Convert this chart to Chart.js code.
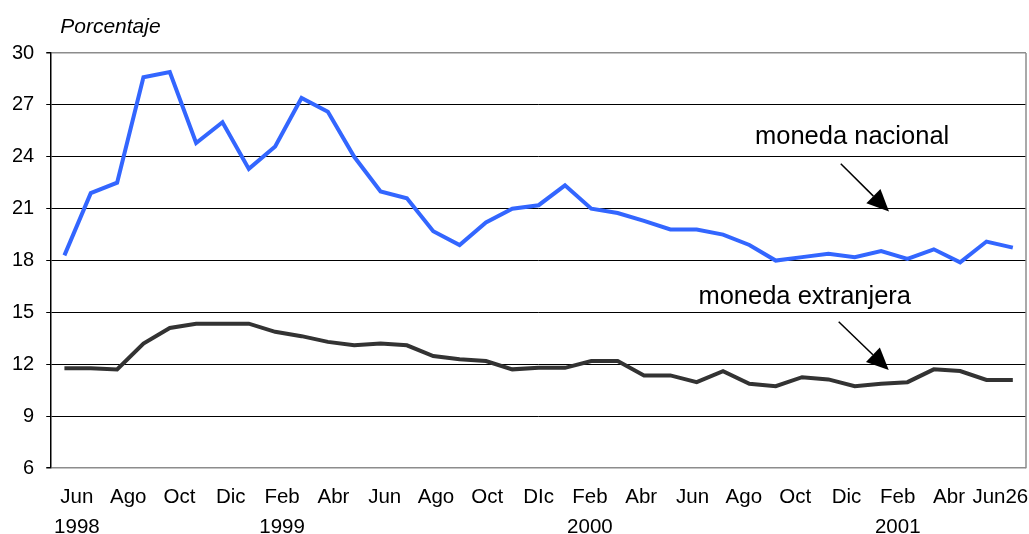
<!DOCTYPE html>
<html>
<head>
<meta charset="utf-8">
<script src="https://cdn.jsdelivr.net/npm/chart.js@4"></script>
<style>
  body { margin: 0; background: #fff; }
</style>
</head>
<body>
<canvas id="tasas" width="1029" height="534"></canvas>
<script>
// monthly points, Jun 1998 .. Jun 26 2001
const months = [
  "Jun 98","Jul 98","Ago 98","Sep 98","Oct 98","Nov 98","Dic 98",
  "Ene 99","Feb 99","Mar 99","Abr 99","May 99","Jun 99","Jul 99","Ago 99","Sep 99","Oct 99","Nov 99","Dic 99",
  "Ene 00","Feb 00","Mar 00","Abr 00","May 00","Jun 00","Jul 00","Ago 00","Sep 00","Oct 00","Nov 00","Dic 00",
  "Ene 01","Feb 01","Mar 01","Abr 01","May 01","Jun26 01"
];

// axis labels (every two months)
const tickLabels = [
  ["Jun","1998"],"Ago","Oct","Dic",["Feb","1999"],"Abr","Jun","Ago","Oct","DIc",
  ["Feb","2000"],"Abr","Jun","Ago","Oct","Dic",["Feb","2001"],"Abr","Jun26"
];

const monedaNacional = [
  18.3, 21.9, 22.5, 28.6, 28.9, 24.8, 26.0, 23.3, 24.6, 27.4, 26.6, 24.0,
  22.0, 21.6, 19.7, 18.9, 20.2, 21.0, 21.2, 22.35, 21.0, 20.75, 20.3, 19.8,
  19.8, 19.5, 18.9, 18.0, 18.2, 18.4, 18.2, 18.55, 18.1, 18.65, 17.9, 19.1, 18.75
];

const monedaExtranjera = [
  11.78, 11.78, 11.7, 13.2, 14.1, 14.35, 14.35, 14.35, 13.88, 13.63, 13.3, 13.1,
  13.2, 13.1, 12.48, 12.29, 12.19, 11.71, 11.8, 11.8, 12.19, 12.19, 11.36, 11.36,
  10.97, 11.6, 10.88, 10.74, 11.26, 11.13, 10.74, 10.88, 10.97, 11.71, 11.61, 11.1, 11.1
];

// callouts: [text, text x (index), text y (value), arrow from x, from y, to x, to y]
const callouts = [
  ["moneda nacional", 29.9, 24.74, 29.47, 23.6, 31.3, 20.83],
  ["moneda extranjera", 28.1, 15.47, 29.39, 14.46, 31.29, 11.67]
];

const FONT = "'Liberation Sans', Arial, sans-serif";

const decorations = {
  id: "decorations",
  afterDraw(chart) {
    const { ctx, chartArea, scales } = chart;
    const x = scales.x, y = scales.y;
    ctx.save();

    // right frame
    ctx.strokeStyle = "#8c8c8c";
    ctx.lineWidth = 1.5;
    ctx.beginPath();
    ctx.moveTo(chartArea.right, chartArea.top);
    ctx.lineTo(chartArea.right, chartArea.bottom);
    ctx.stroke();

    // unit label
    ctx.fillStyle = "#000";
    ctx.font = "italic 21px " + FONT;
    ctx.textAlign = "left";
    ctx.textBaseline = "alphabetic";
    ctx.fillText("Porcentaje", chartArea.left + 9, chartArea.top - 20);

    // callouts with arrows
    callouts.forEach(c => {
      ctx.font = "25.5px " + FONT;
      ctx.textAlign = "center";
      ctx.fillText(c[0], x.getPixelForValue(c[1]), y.getPixelForValue(c[2]));

      const x0 = x.getPixelForValue(c[3]), y0 = y.getPixelForValue(c[4]);
      const x1 = x.getPixelForValue(c[5]), y1 = y.getPixelForValue(c[6]);
      const ang = Math.atan2(y1 - y0, x1 - x0);
      const len = 22, half = 10;
      const bx = x1 - len * Math.cos(ang), by = y1 - len * Math.sin(ang);

      ctx.strokeStyle = "#000";
      ctx.lineWidth = 1.5;
      ctx.beginPath();
      ctx.moveTo(x0, y0);
      ctx.lineTo(bx, by);
      ctx.stroke();

      ctx.beginPath();
      ctx.moveTo(x1, y1);
      ctx.lineTo(bx + half * Math.sin(ang), by - half * Math.cos(ang));
      ctx.lineTo(bx - half * Math.sin(ang), by + half * Math.cos(ang));
      ctx.closePath();
      ctx.fill();
    });
    ctx.restore();
  }
};

new Chart(document.getElementById("tasas"), {
  type: "line",
  data: {
    labels: months,
    datasets: [
      {
        label: "moneda nacional",
        data: monedaNacional,
        borderColor: "#3366ff",
        borderWidth: 4,
        pointRadius: 0,
        tension: 0
      },
      {
        label: "moneda extranjera",
        data: monedaExtranjera,
        borderColor: "#333333",
        borderWidth: 4,
        pointRadius: 0,
        tension: 0
      }
    ]
  },
  options: {
    responsive: false,
    animation: false,
    layout: { padding: { top: 53, right: 3, left: 0, bottom: -14 } },
    plugins: {
      legend: { display: false },
      tooltip: { enabled: false }
    },
    scales: {
      x: {
        display: false,
        offset: true
      },
      xl: {
        type: "category",
        position: "bottom",
        labels: tickLabels,
        offset: true,
        grid: { display: false },
        border: { display: false },
        afterFit(scale) {
          // labels sit well inside the plot, no side padding needed
          scale.paddingLeft = 0;
          scale.paddingRight = 0;
        },
        ticks: {
          color: "#000",
          font: { family: FONT, size: 20.5, lineHeight: 1.46 },
          maxRotation: 0,
          autoSkip: false,
          padding: 6
        }
      },
      y: {
        min: 6,
        max: 30,
        ticks: {
          stepSize: 3,
          color: "#000",
          padding: 12,
          font: { family: FONT, size: 20 }
        },
        grid: {
          color: ctx => (ctx.tick && (ctx.tick.value === 6 || ctx.tick.value === 30)) ? "#8c8c8c" : "#000",
          lineWidth: ctx => (ctx.tick && (ctx.tick.value === 6 || ctx.tick.value === 30)) ? 1.5 : 1,
          tickColor: "#000",
          tickLength: 5
        },
        border: { color: "#000", width: 1.5 }
      }
    }
  },
  plugins: [decorations]
});
</script>
</body>
</html>
